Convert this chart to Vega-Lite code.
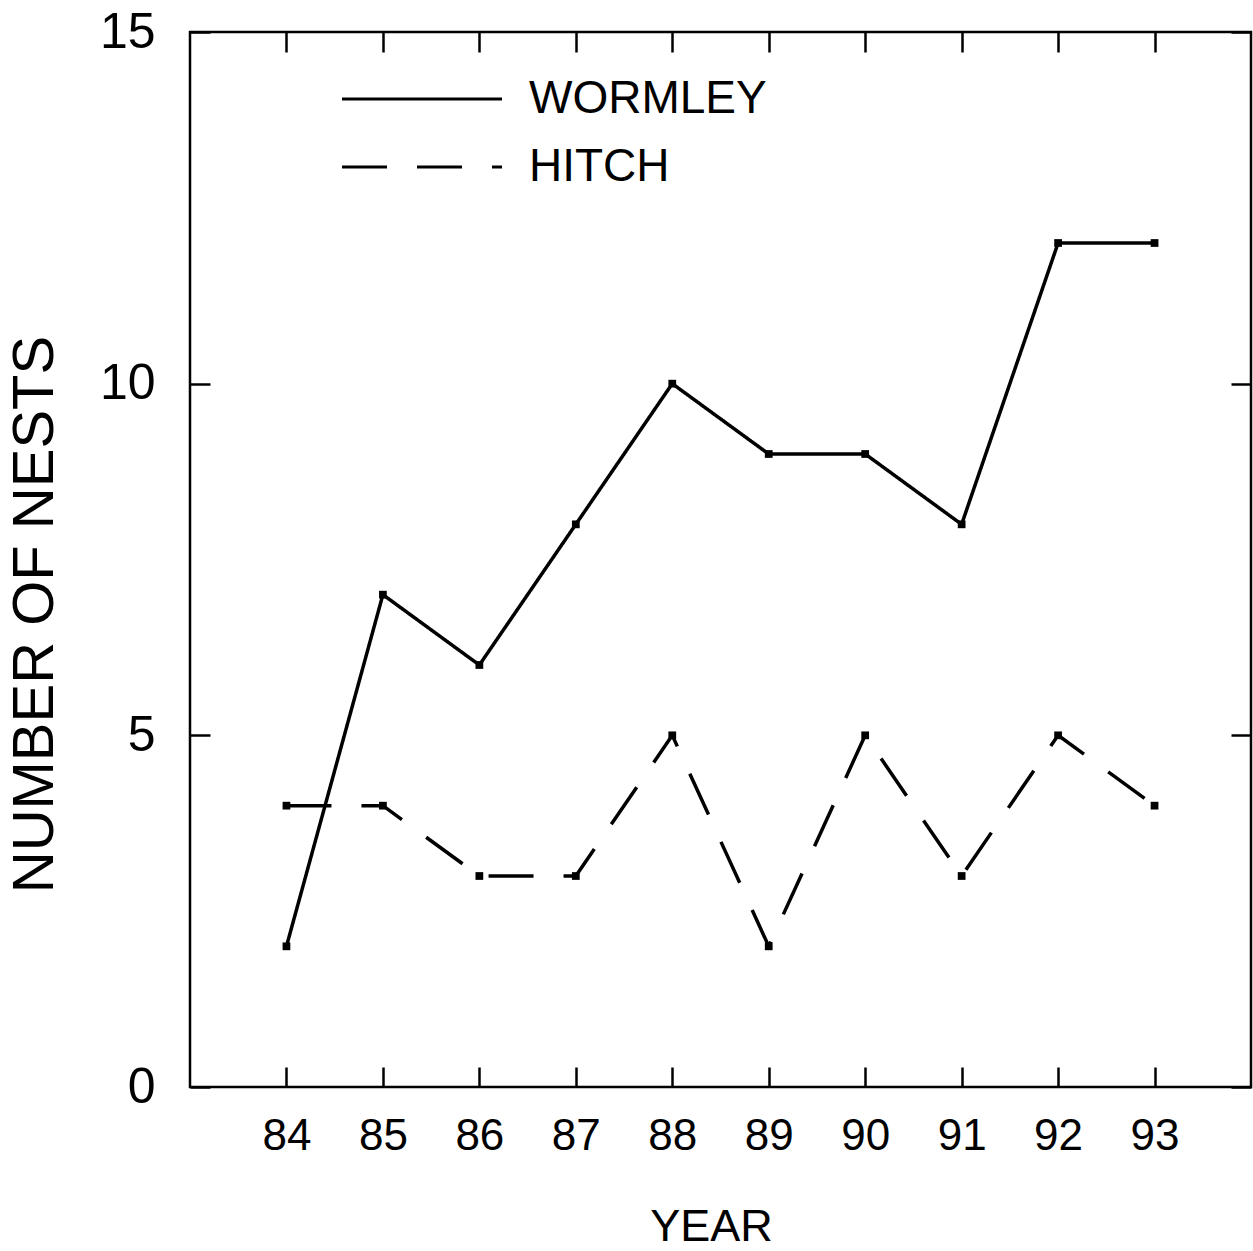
{
  "$schema": "https://vega.github.io/schema/vega-lite/v6.json",
  "width": 1061,
  "height": 1055,
  "autosize": "none",
  "padding": {"left": 190, "top": 32, "right": 2, "bottom": 164},
  "background": "white",
  "config": {
    "font": "Liberation Sans",
    "view": {"stroke": "black", "strokeWidth": 2.5},
    "axis": {"grid": false, "domain": false, "tickColor": "black", "tickWidth": 2.5, "tickSize": -20, "labelColor": "black", "titleColor": "black", "titleFontWeight": "normal", "labelFont": "Liberation Sans", "titleFont": "Liberation Sans"}
  },
  "data": {
    "values": [
      {"site": "WORMLEY", "year": 84, "nests": 2},
      {"site": "WORMLEY", "year": 85, "nests": 7},
      {"site": "WORMLEY", "year": 86, "nests": 6},
      {"site": "WORMLEY", "year": 87, "nests": 8},
      {"site": "WORMLEY", "year": 88, "nests": 10},
      {"site": "WORMLEY", "year": 89, "nests": 9},
      {"site": "WORMLEY", "year": 90, "nests": 9},
      {"site": "WORMLEY", "year": 91, "nests": 8},
      {"site": "WORMLEY", "year": 92, "nests": 12},
      {"site": "WORMLEY", "year": 93, "nests": 12},
      {"site": "HITCH", "year": 84, "nests": 4},
      {"site": "HITCH", "year": 85, "nests": 4},
      {"site": "HITCH", "year": 86, "nests": 3},
      {"site": "HITCH", "year": 87, "nests": 3},
      {"site": "HITCH", "year": 88, "nests": 5},
      {"site": "HITCH", "year": 89, "nests": 2},
      {"site": "HITCH", "year": 90, "nests": 5},
      {"site": "HITCH", "year": 91, "nests": 3},
      {"site": "HITCH", "year": 92, "nests": 5},
      {"site": "HITCH", "year": 93, "nests": 4}
    ]
  },
  "layer": [
    {
      "mark": {"type": "line", "strokeWidth": 3.5, "color": "black"},
      "encoding": {
        "x": {
          "field": "year", "type": "quantitative",
          "scale": {"domain": [83, 94], "nice": false, "zero": false},
          "axis": {"orient": "bottom", "values": [84, 85, 86, 87, 88, 89, 90, 91, 92, 93], "title": "YEAR", "labelFontSize": 44, "labelPadding": 47, "titleFontSize": 45, "titleX": 521, "titleY": 153, "titleBaseline": "alphabetic", "titleAlign": "center"}
        },
        "y": {
          "field": "nests", "type": "quantitative",
          "scale": {"domain": [0, 15], "nice": false},
          "axis": {"orient": "left", "values": [0, 5, 10, 15], "title": "NUMBER OF NESTS", "labelFontSize": 50, "labelPadding": 55, "titleFontSize": 58, "titleAngle": -90, "titleX": -138, "titleY": 582, "titleBaseline": "alphabetic", "titleAlign": "center"}
        },
        "strokeDash": {
          "field": "site", "type": "nominal",
          "scale": {"domain": ["WORMLEY", "HITCH"], "range": [[1, 0], [45, 30]]},
          "legend": {"orient": "none", "legendX": 209, "legendY": 44, "title": null, "symbolType": "M-16,0H16", "symbolSize": 100, "symbolStrokeWidth": 3, "symbolStrokeColor": "black", "symbolFillColor": "transparent", "labelFontSize": 46, "labelColor": "black", "labelOffset": 84, "labelLimit": 0, "rowPadding": 22, "labelFont": "Liberation Sans"}
        }
      }
    },
    {
      "mark": {"type": "square", "size": 60, "color": "black", "filled": true, "opacity": 1},
      "encoding": {
        "x": {
          "field": "year", "type": "quantitative",
          "axis": {"orient": "top", "values": [84, 85, 86, 87, 88, 89, 90, 91, 92, 93], "labels": false, "title": null}
        },
        "y": {
          "field": "nests", "type": "quantitative",
          "axis": {"orient": "right", "values": [0, 5, 10, 15], "labels": false, "title": null}
        }
      }
    }
  ],
  "resolve": {"axis": {"x": "independent", "y": "independent"}}
}
